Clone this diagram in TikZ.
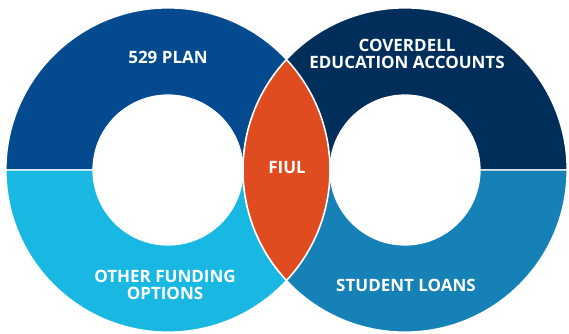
\documentclass[tikz,border=0pt]{standalone}
\usepackage{fontspec}
\setmainfont{Open Sans}
\usetikzlibrary{calc}
\definecolor{planblue}{HTML}{034A8E}
\definecolor{otherblue}{HTML}{18B8E3}
\definecolor{covnavy}{HTML}{002E5B}
\definecolor{loanblue}{HTML}{1681B6}
\definecolor{fiulorange}{HTML}{DE4C20}
\tikzset{
  seg/.style={draw=white, line width=1.2pt},
  lbl/.style={text=white, font=\bfseries\fontsize{17}{17}\selectfont, align=center, inner sep=0pt},
}
\begin{document}
\begin{tikzpicture}[x=1pt,y=1pt]
\useasboundingbox (0,0) rectangle (569,333);
\coordinate (L) at (168,163);
\coordinate (R) at (405,163);
% left ring
\path[seg, fill=planblue] ($(L)+(-162,0)$) arc[start angle=180, end angle=0, radius=162] -- ($(L)+(75,0)$) arc[start angle=0, end angle=180, radius=75] -- cycle;
\path[seg, fill=otherblue] ($(L)+(-162,0)$) arc[start angle=180, end angle=360, radius=162] -- ($(L)+(75,0)$) arc[start angle=360, end angle=180, radius=75] -- cycle;
% right ring
\path[seg, fill=covnavy] ($(R)+(-162,0)$) arc[start angle=180, end angle=0, radius=162] -- ($(R)+(75,0)$) arc[start angle=0, end angle=180, radius=75] -- cycle;
\path[seg, fill=loanblue] ($(R)+(-162,0)$) arc[start angle=180, end angle=360, radius=162] -- ($(R)+(75,0)$) arc[start angle=360, end angle=180, radius=75] -- cycle;
% lens
\path[draw=white, line width=1.6pt, fill=fiulorange] ($(L)+(-43:162)$) arc[start angle=-43, end angle=43, radius=162] arc[start angle=137, end angle=223, radius=162] -- cycle;
% labels
\node[lbl] (plan) at (168,276) {529 PLAN};
\node[lbl] (cov) at (407,279.5) {COVERDELL\\EDUCATION ACCOUNTS};
\node[lbl] (other) at (165,48) {OTHER FUNDING\\OPTIONS};
\node[lbl] (loans) at (406,48) {STUDENT LOANS};
\node[lbl] (fiul) at (287,165) {FIUL};
\end{tikzpicture}
\end{document}
